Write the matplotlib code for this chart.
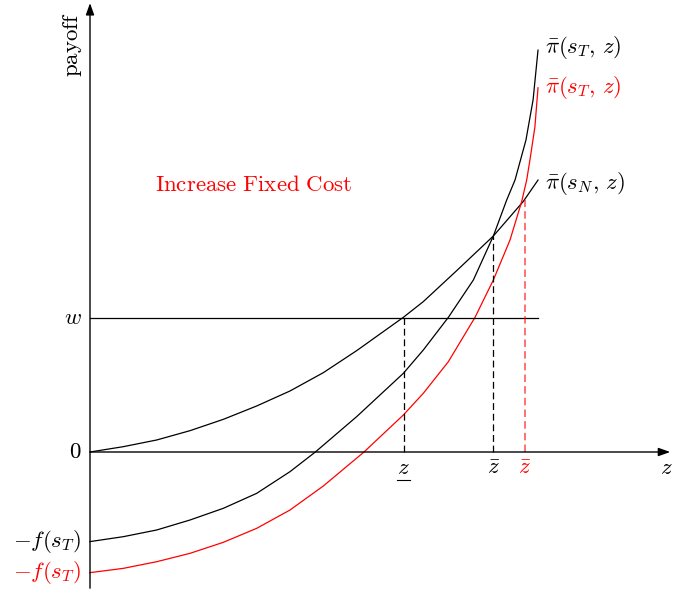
import matplotlib
matplotlib.use("Agg")
import matplotlib.pyplot as plt

plt.rcParams["mathtext.fontset"] = "cm"
plt.rcParams["lines.solid_joinstyle"] = "round"

# curves (z, payoff)
z_N = [0, 0.744, 1.488, 2.232, 2.976, 3.72, 4.464, 5.208, 5.952, 6.994,
       7.44, 8.185, 9.003, 9.673, 10.0]
pi_N = [0, 0.119, 0.268, 0.476, 0.729, 1.027, 1.362, 1.771, 2.262, 3.006,
        3.357, 4.048, 4.821, 5.595, 6.07]

z_T = [0, 0.744, 1.488, 2.232, 2.976, 3.72, 4.464, 5.03, 5.952, 6.994,
       7.44, 7.999, 8.557, 9.003, 9.301, 9.487, 9.73, 9.89, 10.0]
pi_T = [-2.0, -1.89, -1.741, -1.518, -1.257, -0.923, -0.439, 0, 0.789, 1.756,
        2.277, 3.006, 3.839, 4.821, 5.625, 6.071, 6.96, 7.86, 8.97]

z_T2 = [0, 0.744, 1.488, 2.232, 2.976, 3.72, 4.464, 5.208, 6.116, 6.994,
        7.44, 7.999, 8.594, 9.003, 9.375, 9.635, 9.747, 9.82, 9.93, 10.0]
pi_T2 = [-2.693, -2.597, -2.449, -2.262, -2.016, -1.704, -1.295, -0.759, 0, 0.826,
         1.31, 2.016, 3.006, 3.839, 4.732, 5.588, 6.071, 6.52, 7.25, 8.13]

w = 3.0
z_low, z_bar, z_bar2 = 7.0, 9.0, 9.70
h_low, h_bar, h_bar2 = 3.0, 4.82, 5.62

fig = plt.figure(figsize=(6.73, 5.89), dpi=100)
ax = fig.add_axes([0, 0, 1, 1])
ax.set_xlim(-2.009, 13.013)
ax.set_ylim(-3.058, 10.089)
ax.axis("off")

# axes with arrows
ax.annotate("", xy=(12.95, 0), xytext=(0, 0),
            arrowprops=dict(arrowstyle="-|>,head_length=0.7,head_width=0.25",
                            lw=1.0, color="black", shrinkA=0, shrinkB=0))
ax.annotate("", xy=(0, 10.02), xytext=(0, -3.04),
            arrowprops=dict(arrowstyle="-|>,head_length=0.7,head_width=0.25",
                            lw=1.0, color="black", shrinkA=0, shrinkB=0))

# curves
ax.plot(z_N, pi_N, color="black", lw=0.9)
ax.plot(z_T, pi_T, color="black", lw=0.9)
ax.plot(z_T2, pi_T2, color="red", lw=0.9)
ax.plot([0, 10], [w, w], color="black", lw=0.9)

# thresholds
dash = (0, (5.5, 3))
ax.plot([z_low, z_low], [0, h_low], color="black", lw=0.9, linestyle=dash)
ax.plot([z_bar, z_bar], [0, h_bar], color="black", lw=0.9, linestyle=dash)
ax.plot([z_bar2, z_bar2], [0, h_bar2], color="red", alpha=0.65, lw=1.2,
        linestyle=(0, (4.5, 2.5)))

fs = 16.5
ax.text(z_low, -0.1, r"$z$", ha="center", va="top", fontsize=fs)
ax.plot([z_low - 0.14, z_low + 0.14], [-0.63, -0.63], color="black", lw=0.8)
ax.text(z_bar, -0.1, r"$\bar{z}$", ha="center", va="top", fontsize=fs)
ax.text(z_bar2, -0.1, r"$\bar{z}$", ha="center", va="top", fontsize=fs, color="red")
ax.text(13.0, -0.1, r"$z$", ha="right", va="top", fontsize=fs)

# y labels
ax.text(-0.18, 0, r"$0$", ha="right", va="center", fontsize=fs)
ax.text(-0.18, w, r"$w$", ha="right", va="center", fontsize=fs)
ax.text(-0.2, -2.0, r"$-f(s_T)$", ha="right", va="center", fontsize=fs)
ax.text(-0.2, -2.7, r"$-f(s_T)$", ha="right", va="center", fontsize=fs, color="red")
ax.text(-0.4, 9.1, r"$\mathrm{payoff}$", ha="center", va="center", rotation=90, fontsize=fs)

# curve labels
ax.text(10.15, 9.02, r"$\bar{\pi}(s_T,\,z)$", ha="left", va="center", fontsize=fs)
ax.text(10.15, 8.13, r"$\bar{\pi}(s_T,\,z)$", ha="left", va="center", fontsize=fs, color="red")
ax.text(10.15, 6.0, r"$\bar{\pi}(s_N,\,z)$", ha="left", va="center", fontsize=fs)

ax.text(3.66, 5.98, r"$\mathrm{Increase\ Fixed\ Cost}$", ha="center", va="center",
        fontsize=fs, color="red")

fig.savefig("out.png", dpi=100)
